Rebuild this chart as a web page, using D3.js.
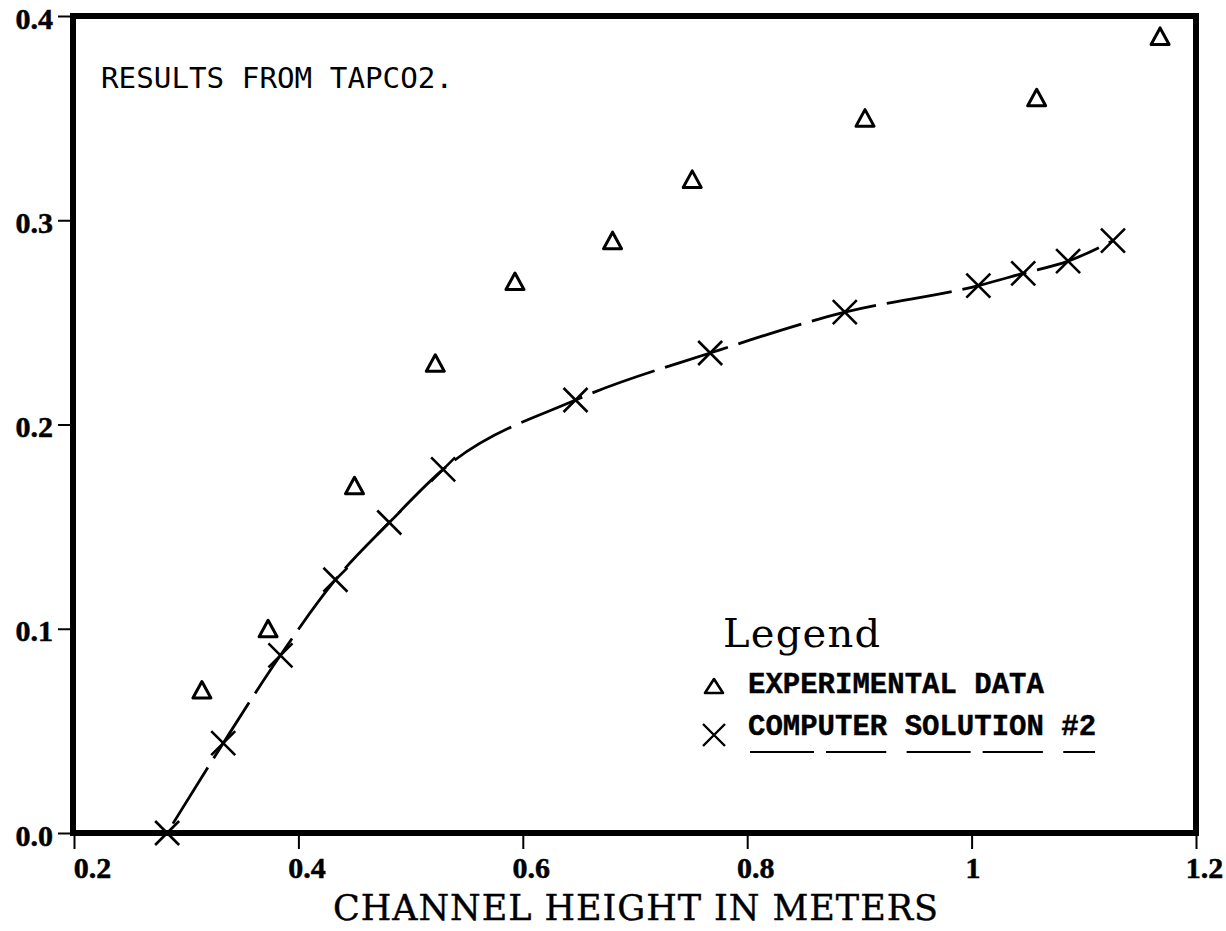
<!DOCTYPE html>
<html>
<head>
<meta charset="utf-8">
<script src="https://cdn.jsdelivr.net/npm/d3@7"></script>
<style>
  html, body { margin: 0; padding: 0; background: #fff; }
  svg { display: block; }
</style>
</head>
<body>
<svg id="chart" width="1226" height="931"></svg>
<script>
// Axis ticks and their printed labels
const xTicks = [0.2, 0.4, 0.6, 0.8, 1.0, 1.2];
const xTickLabels = ["0.2", "0.4", "0.6", "0.8", "1", "1.2"];
const yTicks = [0.0, 0.1, 0.2, 0.3, 0.4];
const yTickLabels = ["0.0", "0.1", "0.2", "0.3", "0.4"];

// Measured values (triangles)
const experimentalX = [0.314, 0.373, 0.450, 0.522, 0.593, 0.680, 0.751, 0.905, 1.058, 1.168];
const experimentalY = [0.070, 0.100, 0.170, 0.230, 0.270, 0.290, 0.320, 0.350, 0.360, 0.390];

// Computed values (crosses joined by the dashed curve)
const solutionX = [0.283, 0.333, 0.384, 0.433, 0.481, 0.529, 0.647, 0.767, 0.887, 1.006, 1.046, 1.086, 1.126];
const solutionY = [0.000, 0.044, 0.087, 0.124, 0.152, 0.178, 0.212, 0.235, 0.255, 0.268, 0.274, 0.280, 0.290];

const xTitle = "CHANNEL HEIGHT IN METERS";
const noteText = "RESULTS FROM TAPCO2.";
const legendTitle = "Legend";
const legendItems = ["EXPERIMENTAL DATA", "COMPUTER SOLUTION #2"];

const svg = d3.select("#chart");
svg.append("rect").attr("width", 1226).attr("height", 931).attr("fill", "#fff");

const x = d3.scaleLinear().domain([0.2, 1.2]).range([74, 1196]);
const y = d3.scaleLinear().domain([0, 0.4]).range([833, 16]);

const tickFont = "'Liberation Serif', 'Times New Roman', serif";

// Bottom axis
const gx = svg.append("g")
  .attr("transform", `translate(0,${y(0)})`)
  .call(d3.axisBottom(x).tickValues(xTicks)
    .tickFormat((d, i) => xTickLabels[i]).tickSize(16).tickPadding(4));
gx.select(".domain").remove();
gx.selectAll(".tick line").attr("stroke", "#000").attr("stroke-width", 2);
gx.selectAll(".tick text")
  .attr("fill", "#000")
  .attr("stroke", "#000").attr("stroke-width", 0.5)
  .attr("font-family", tickFont)
  .attr("font-weight", "bold")
  .attr("font-size", 30)
  .attr("y", 45).attr("dy", 0)
  .attr("dx", (d, i) => i === 0 ? 18 : (xTickLabels[i].length === 1 ? 1 : 8));

// Left axis
const gy = svg.append("g")
  .attr("transform", `translate(${x(0.2) - 1},0)`)
  .call(d3.axisLeft(y).tickValues(yTicks)
    .tickFormat((d, i) => yTickLabels[i]).tickSize(15).tickPadding(5));
gy.select(".domain").remove();
gy.selectAll(".tick line").attr("stroke", "#000").attr("stroke-width", 2);
gy.selectAll(".tick text")
  .attr("fill", "#000")
  .attr("stroke", "#000").attr("stroke-width", 0.5)
  .attr("font-family", tickFont)
  .attr("font-weight", "bold")
  .attr("font-size", 30)
  .attr("dy", 0).attr("y", 12);

// Heavy frame round the plotting area
svg.append("rect")
  .attr("x", x(0.2) - 1).attr("y", y(0.4))
  .attr("width", x(1.2) - x(0.2) + 1).attr("height", y(0) - y(0.4))
  .attr("fill", "none").attr("stroke", "#000").attr("stroke-width", 6);

// Axis title
svg.append("text")
  .attr("x", 333).attr("y", 920)
  .attr("font-family", "'DejaVu Serif', serif")
  .attr("font-size", 35)
  .attr("textLength", 605).attr("lengthAdjust", "spacing")
  .attr("fill", "#000").attr("stroke", "#000").attr("stroke-width", 0.4)
  .text(xTitle);

// Plot note
svg.append("text")
  .attr("x", 101).attr("y", 88)
  .attr("font-family", "'DejaVu Sans Mono', monospace")
  .attr("font-size", 29)
  .attr("textLength", 352).attr("lengthAdjust", "spacingAndGlyphs")
  .attr("fill", "#000")
  .text(noteText);

// Dashed curve through the computed points
const solution = solutionX.map((v, i) => [v, solutionY[i]]);
svg.append("path")
  .datum(solution)
  .attr("d", d3.line().x(d => x(d[0])).y(d => y(d[1])).curve(d3.curveMonotoneX))
  .attr("fill", "none")
  .attr("stroke", "#000")
  .attr("stroke-width", 2.8)
  .attr("stroke-dasharray", "66 11")
  .attr("stroke-dashoffset", 66);

// Marker shapes
const triPath = "M0,-8.5L9,8L-9,8Z";
const crossPath = "M-12,-12L12,12M-12,12L12,-12";

svg.append("g").selectAll("path")
  .data(experimentalX.map((v, i) => [v, experimentalY[i]]))
  .join("path")
  .attr("transform", d => `translate(${x(d[0])},${y(d[1])})`)
  .attr("d", triPath)
  .attr("fill", "none").attr("stroke", "#000")
  .attr("stroke-width", 3).attr("stroke-linejoin", "round");

svg.append("g").selectAll("path")
  .data(solution)
  .join("path")
  .attr("transform", d => `translate(${x(d[0])},${y(d[1])})`)
  .attr("d", crossPath)
  .attr("fill", "none").attr("stroke", "#000")
  .attr("stroke-width", 2.6);

// Legend
const lg = svg.append("g");
lg.append("text")
  .attr("x", 723).attr("y", 647)
  .attr("font-family", "'DejaVu Serif', serif")
  .attr("font-size", 40)
  .attr("textLength", 157).attr("lengthAdjust", "spacing")
  .attr("fill", "#000")
  .text(legendTitle);

lg.append("path")
  .attr("transform", "translate(714,686)")
  .attr("d", "M0,-7L9,7L-9,7Z")
  .attr("fill", "none").attr("stroke", "#000")
  .attr("stroke-width", 2.6).attr("stroke-linejoin", "round");
lg.append("path")
  .attr("transform", "translate(714,735)")
  .attr("d", "M-11,-11L11,11M-11,11L11,-11")
  .attr("fill", "none").attr("stroke", "#000")
  .attr("stroke-width", 2.4);

const legendFont = "'Liberation Mono', 'Courier New', monospace";
lg.append("text")
  .attr("x", 748).attr("y", 693)
  .attr("font-family", legendFont).attr("font-weight", "bold")
  .attr("font-size", 29)
  .attr("fill", "#000").attr("stroke", "#000").attr("stroke-width", 0.4)
  .text(legendItems[0]);
const item2 = lg.append("text")
  .attr("x", 748).attr("y", 735)
  .attr("font-family", legendFont).attr("font-weight", "bold")
  .attr("font-size", 29)
  .attr("fill", "#000").attr("stroke", "#000").attr("stroke-width", 0.4)
  .text(legendItems[1]);

// Dashed underline beneath each word of the second entry
const node = item2.node();
const str = legendItems[1];
const words = [];
str.replace(/\S+/g, (w, idx) => { words.push([idx, idx + w.length - 1]); return w; });
words.forEach(([a, b]) => {
  const ea = node.getExtentOfChar(a);
  const eb = node.getExtentOfChar(b);
  lg.append("line")
    .attr("x1", ea.x + 2).attr("x2", eb.x + eb.width - 1)
    .attr("y1", 752).attr("y2", 752)
    .attr("stroke", "#000").attr("stroke-width", 2)
    .attr("stroke-dasharray", "64 12");
});
</script>
</body>
</html>
